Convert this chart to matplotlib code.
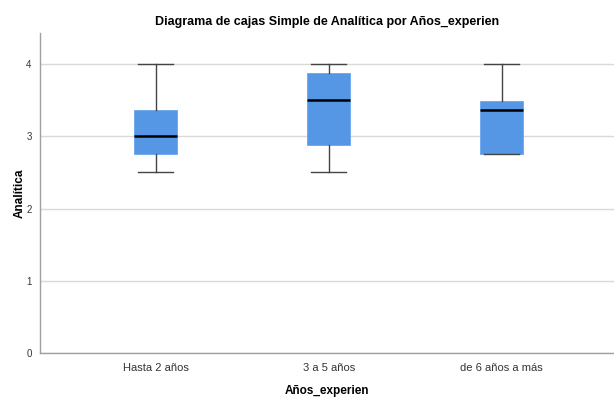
import matplotlib
matplotlib.use("Agg")
import matplotlib.pyplot as plt

plt.rcParams['font.family'] = ['Liberation Sans', 'DejaVu Sans']

# data
categories = ["Hasta 2 años", "3 a 5 años", "de 6 años a más"]
whislo = [2.5, 2.5, 2.75]
q1 = [2.75, 2.88, 2.75]
med = [3.0, 3.5, 3.37]
q3 = [3.37, 3.87, 3.49]
whishi = [4.0, 4.0, 4.0]

stats = []
for i in range(len(categories)):
    stats.append(dict(label=categories[i], whislo=whislo[i], q1=q1[i], med=med[i],
                      q3=q3[i], whishi=whishi[i], fliers=[]))

fig = plt.figure(figsize=(6.14, 3.98), dpi=100)
ax = fig.add_axes([0.065, 0.113, 0.935, 0.804])

ax.bxp(stats, positions=[0, 1, 2], widths=0.25, patch_artist=True, showfliers=False,
       boxprops=dict(facecolor="#5596e5", edgecolor="#6aa5ec", linewidth=0.6),
       medianprops=dict(color="black", linewidth=1.8),
       whiskerprops=dict(color="#444444", linewidth=1.0),
       capprops=dict(color="#444444", linewidth=1.0),
       capwidths=0.2)

ax.set_xlim(-0.67, 2.65)
ax.set_ylim(0, 4.43)
ax.set_yticks([0, 1, 2, 3, 4])
ax.yaxis.grid(True, color="#d9d9d9", linewidth=1.0)
ax.set_axisbelow(True)
for s in ["top", "right"]:
    ax.spines[s].set_visible(False)
for s in ["left", "bottom"]:
    ax.spines[s].set_color("#a0a0a0")
    ax.spines[s].set_linewidth(1.0)
ax.tick_params(length=0, labelsize=7, colors="#333333", pad=6)
ax.tick_params(axis="x", labelsize=8, pad=7)

ax.set_title("Diagrama de cajas Simple de Analítica por Años_experien",
             fontsize=9, fontweight="bold", pad=6)
ax.set_ylabel("Analítica", fontsize=8.5, fontweight="bold")
ax.yaxis.set_label_coords(-0.025, 0.5)
ax.set_xlabel("Años_experien", fontsize=8.5, fontweight="bold", labelpad=9)

fig.savefig("out.png", dpi=100)
